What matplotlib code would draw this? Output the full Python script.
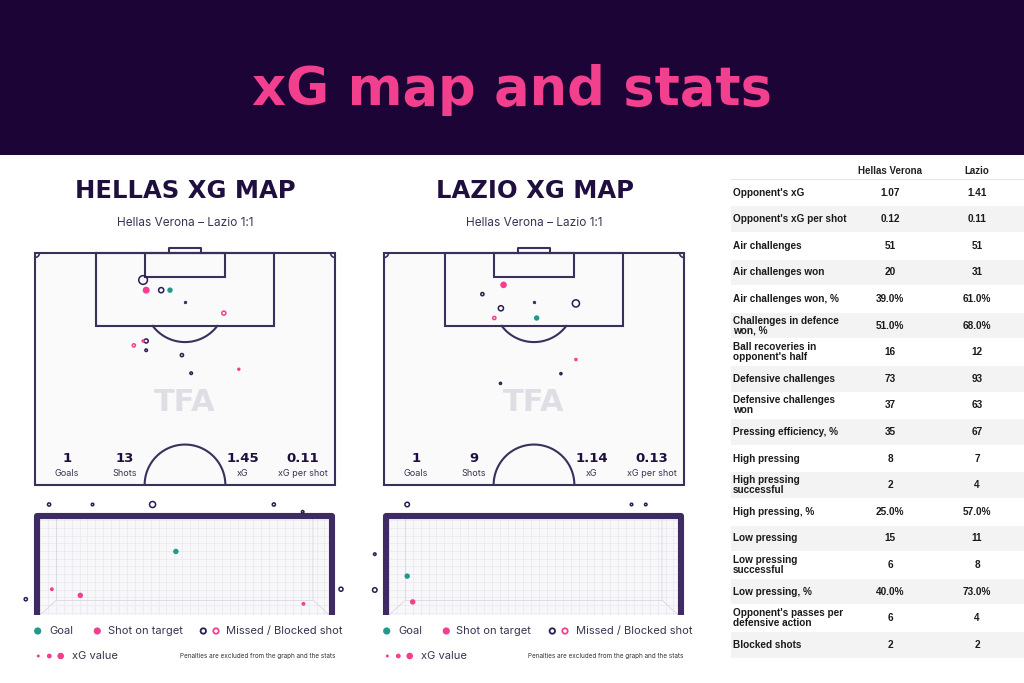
import numpy as np
import matplotlib
matplotlib.use("Agg")
import matplotlib.pyplot as plt
from matplotlib.patches import Rectangle

# ---------------- data ----------------
main_title = "xG map and stats"
map_titles = ["HELLAS XG MAP", "LAZIO XG MAP"]
match_label = "Hellas Verona – Lazio 1:1"
teams = ["Hellas Verona", "Lazio"]

summary_labels = ["Goals", "Shots", "xG", "xG per shot"]
hellas_summary = ["1", "13", "1.45", "0.11"]
lazio_summary = ["1", "9", "1.14", "0.13"]

# shots on pitch: x = metres from left touchline, y = metres from goal line
hellas_shot_x = [24.5, 25.2, 28.6, 30.6, 42.8, 22.4, 25.2, 24.5, 25.2, 33.3, 46.2, 35.4]
hellas_shot_y = [6.1, 8.4, 8.4, 8.4, 13.6, 20.9, 19.9, 19.9, 22.0, 23.1, 26.3, 27.2]
hellas_shot_xg = [0.34, 0.20, 0.18, 0.13, 0.13, 0.09, 0.13, 0.04, 0.06, 0.09, 0.04, 0.06]
hellas_shot_type = ["missed", "target", "missed", "goal", "blocked", "blocked",
                    "missed", "target", "missed", "missed", "target", "missed"]

lazio_shot_x = [27.1, 22.3, 26.5, 25.0, 34.6, 43.5, 43.5, 40.1, 26.4]
lazio_shot_y = [7.2, 9.3, 12.5, 14.7, 14.7, 11.4, 24.1, 27.3, 29.5]
lazio_shot_xg = [0.18, 0.09, 0.18, 0.09, 0.13, 0.27, 0.04, 0.04, 0.04]
lazio_shot_type = ["target", "missed", "missed", "blocked", "goal", "missed",
                   "blocked", "missed", "missed"]

# shots at goal mouth: x = metres from left post, y = height in metres
hellas_goal_x = [0.23, 1.33, 2.85, 5.92, 6.65, -0.36, 7.62, 0.30, 1.02, 6.67, 3.44]
hellas_goal_y = [2.81, 2.81, 2.81, 2.81, 2.62, 0.35, 0.61, 0.61, 0.45, 0.23, 1.59]
hellas_goal_xg = [0.09, 0.06, 0.22, 0.09, 0.06, 0.09, 0.13, 0.06, 0.13, 0.06, 0.13]
hellas_goal_type = ["missed"] * 7 + ["target"] * 3 + ["goal"]

lazio_goal_x = [0.46, 6.14, 6.50, -0.36, -0.36, 0.46, 0.60]
lazio_goal_y = [2.81, 2.81, 2.81, 1.52, 0.59, 0.95, 0.28]
lazio_goal_xg = [0.15, 0.06, 0.06, 0.06, 0.15, 0.13, 0.13]
lazio_goal_type = ["missed"] * 5 + ["goal", "target"]

stat_labels = ["Opponent's xG", "Opponent's xG per shot", "Air challenges",
               "Air challenges won", "Air challenges won, %",
               "Challenges in defence\nwon, %", "Ball recoveries in\nopponent's half",
               "Defensive challenges", "Defensive challenges\nwon",
               "Pressing efficiency, %", "High pressing", "High pressing\nsuccessful",
               "High pressing, %", "Low pressing", "Low pressing\nsuccessful",
               "Low pressing, %", "Opponent's passes per\ndefensive action", "Blocked shots"]
hellas_stats = ["1.07", "0.12", "51", "20", "39.0%", "51.0%", "16", "73", "37",
                "35", "8", "2", "25.0%", "15", "6", "40.0%", "6", "2"]
lazio_stats = ["1.41", "0.11", "51", "31", "61.0%", "68.0%", "12", "93", "63",
               "67", "7", "4", "57.0%", "11", "8", "73.0%", "4", "2"]

# ---------------- style ----------------
BANNER = "#1c0536"
PINK = "#f2408e"
TEAL = "#23998b"
DARK = "#2b1d4e"
LINE = "#3b2f5c"
FRAME = "#3f2b63"
TXT = "#1f0f3f"
GEO = ["Inter", "Lato", "DejaVu Sans"]
HEAVY = ["DejaVu Sans"]

W, H = 1024, 683
fig = plt.figure(figsize=(W / 100, H / 100), dpi=100)
fig.patch.set_facecolor("white")

ov = fig.add_axes([0, 0, 1, 1], zorder=0)
ov.set_xlim(0, W)
ov.set_ylim(H, 0)
ov.axis("off")

ov.add_patch(Rectangle((0, 0), W, 155, fc=BANNER, ec="none"))
ov.text(512, 105, main_title, color=PINK, fontsize=38, fontweight="bold",
        family=HEAVY, ha="center", va="baseline")


def px_axes(left, top, width, height, z=2):
    return fig.add_axes([left / W, (H - top - height) / H, width / W, height / H], zorder=z)


def radius(xg):
    return 1.3 + 11.0 * np.asarray(xg)


def draw_shots(ax, xs, ys, xgs, types):
    r = radius(xgs)
    for x, y, rr, t in sorted(zip(xs, ys, r, types), key=lambda a: -a[2]):
        s = (1.44 * rr) ** 2
        if t == "goal":
            ax.scatter([x], [y], s=s, c=TEAL, edgecolors="none", zorder=5, clip_on=False)
        elif t == "target":
            ax.scatter([x], [y], s=s, c=PINK, edgecolors="none", zorder=5, clip_on=False)
        elif t == "missed":
            ax.scatter([x], [y], s=(1.44 * rr - 1) ** 2, facecolors="none", edgecolors=DARK,
                       linewidths=1.1, zorder=5, clip_on=False)
        else:
            ax.scatter([x], [y], s=(1.44 * rr - 1) ** 2, facecolors="none", edgecolors=PINK,
                       linewidths=1.1, zorder=5, clip_on=False)


def draw_pitch(ax):
    lw = 1.5
    ax.add_patch(Rectangle((0, 0), 68, 52.5, fc="#fafafb", ec=LINE, lw=lw, zorder=1))
    ax.add_patch(Rectangle((13.84, 0), 40.32, 16.5, fill=False, ec=LINE, lw=lw, zorder=2))
    ax.add_patch(Rectangle((24.84, 0), 18.32, 5.5, fill=False, ec=LINE, lw=lw, zorder=2))
    ax.plot([30.34, 30.34, 37.66, 37.66], [0, -1.1, -1.1, 0], color=LINE, lw=lw, zorder=2,
            clip_on=False)
    ax.scatter([34], [11], s=2, c=LINE, zorder=2)
    t0 = np.arcsin(5.5 / 9.15)
    t = np.linspace(t0, np.pi - t0, 60)
    ax.plot(34 + 9.15 * np.cos(t), 11 + 9.15 * np.sin(t), color=LINE, lw=lw, zorder=2)
    t = np.linspace(np.pi, 2 * np.pi, 80)
    ax.plot(34 + 9.15 * np.cos(t), 52.5 + 9.15 * np.sin(t), color=LINE, lw=lw, zorder=2)
    t = np.linspace(0, np.pi / 2, 20)
    ax.plot(np.cos(t), np.sin(t), color=LINE, lw=lw * 0.8, zorder=2)
    ax.plot(68 - np.cos(t), np.sin(t), color=LINE, lw=lw * 0.8, zorder=2)
    ax.text(34, 33.8, "TFA", fontsize=22, fontweight="bold", color="#dedee5",
            family=HEAVY, ha="center", va="center", zorder=2)
    ax.set_xlim(-1, 69)
    ax.set_ylim(53.5, -3)
    ax.axis("off")
    ax.patch.set_alpha(0)


def draw_goal(ax):
    ax.add_patch(Rectangle((-0.08, -0.06), 7.48, 2.6, fc="#f8f8fa", ec="none", zorder=1))
    gc = "#e4e4eb"
    bx0, bx1, by0, by1 = 0.42, 6.91, 0.33, 2.44
    for gx in np.arange(0.0, 7.33, 0.2):
        ax.plot([gx, gx], [-0.06, 2.44], color=gc, lw=0.4, zorder=2)
    for gy in np.arange(0.0, 2.45, 0.2):
        ax.plot([0, 7.32], [gy, gy], color=gc, lw=0.4, zorder=2)
    ax.plot([0, bx0, bx0], [-0.06, by0, by1], color="#d8d8e0", lw=0.6, zorder=2)
    ax.plot([7.32, bx1, bx1], [-0.06, by0, by1], color="#d8d8e0", lw=0.6, zorder=2)
    ax.plot([bx0, bx1], [by0, by0], color="#d8d8e0", lw=0.6, zorder=2)
    ax.plot([-0.076, -0.076, 7.396, 7.396], [-0.06, 2.52, 2.52, -0.06], color=FRAME,
            lw=4.4, solid_joinstyle="round", solid_capstyle="butt", zorder=3)
    ax.set_xlim(-0.633, 7.848)
    ax.set_ylim(-0.06, 3.057)
    ax.axis("off")
    ax.patch.set_alpha(0)


panels = [
    (0, hellas_summary, hellas_shot_x, hellas_shot_y, hellas_shot_xg, hellas_shot_type,
     hellas_goal_x, hellas_goal_y, hellas_goal_xg, hellas_goal_type),
    (349, lazio_summary, lazio_shot_x, lazio_shot_y, lazio_shot_xg, lazio_shot_type,
     lazio_goal_x, lazio_goal_y, lazio_goal_xg, lazio_goal_type),
]
stat_pos_x = [7.2, 20.4, 47.1, 60.7]

for i, (dx, summ, sx, sy, sxg, st, gx, gy, gxg, gt) in enumerate(panels):
    ov.text(185.5 + dx, 191, map_titles[i], fontsize=17.5, fontweight="bold", color=TXT,
            family=HEAVY, ha="center", va="center")
    ov.text(185.5 + dx, 223.5, match_label, fontsize=8.5, color="#3a3350",
            family=GEO, ha="center", va="center")

    pa = px_axes(30.6 + dx, 239.8, 308.8, 249.6)
    draw_pitch(pa)
    draw_shots(pa, sx, sy, sxg, st)
    for k in range(4):
        pa.text(stat_pos_x[k], 46.5, summ[k], fontsize=9.5, fontweight="bold", color=TXT,
                family=HEAVY, ha="center", va="center", zorder=4)
        pa.text(stat_pos_x[k], 49.9, summary_labels[k], fontsize=6.5, color="#3a3350",
                family=GEO, ha="center", va="center", zorder=4)

    ga = px_axes(15 + dx, 495, 335, 120)
    draw_goal(ga)
    draw_shots(ga, gx, gy, gxg, gt)

    # legend
    ly = 631
    ov.scatter([37.7 + dx], [ly], s=(1.44 * 3.6) ** 2, c=TEAL, edgecolors="none")
    ov.text(49 + dx, ly, "Goal", fontsize=8, color="#3a3350", family=GEO, va="center")
    ov.scatter([97.3 + dx], [ly], s=(1.44 * 3.6) ** 2, c=PINK, edgecolors="none")
    ov.text(107.5 + dx, ly, "Shot on target", fontsize=8, color="#3a3350", family=GEO,
            va="center")
    ov.scatter([203.3 + dx], [ly], s=(1.44 * 3.4 - 1) ** 2, facecolors="none",
               edgecolors=DARK, linewidths=1.3)
    ov.scatter([216 + dx], [ly], s=(1.44 * 3.4 - 1) ** 2, facecolors="none",
               edgecolors=PINK, linewidths=1.3)
    ov.text(226.5 + dx, ly, "Missed / Blocked shot", fontsize=8, color="#3a3350",
            family=GEO, va="center")
    ly2 = 656
    for xx, rr in [(38.3, 1.5), (49.3, 2.4), (60.7, 3.3)]:
        ov.scatter([xx + dx], [ly2], s=(1.44 * rr) ** 2, c=PINK, edgecolors="none")
    ov.text(72 + dx, ly2, "xG value", fontsize=8, color="#3a3350", family=GEO, va="center")
    ov.text(335 + dx, ly2, "Penalties are excluded from the graph and the stats",
            fontsize=4.6, color="#333333", family=GEO, ha="right", va="center")

# ---------------- table ----------------
TF = ["Liberation Sans", "DejaVu Sans"]
row_h = 26.6
top0 = 179.3
col_h, col_l = 890, 977
ov.text(col_h, 171, teams[0], fontsize=7, fontweight="bold", color="#222222", family=TF,
        ha="center", va="center")
ov.text(col_l, 171, teams[1], fontsize=7, fontweight="bold", color="#222222", family=TF,
        ha="center", va="center")
ov.plot([731, 1024], [top0, top0], color="#e6e6e6", lw=0.8)
for i, lab in enumerate(stat_labels):
    y0 = top0 + row_h * i
    if i % 2 == 1:
        ov.add_patch(Rectangle((731, y0 + 0.5), 293, row_h - 1, fc="#f3f3f3", ec="none"))
    yc = y0 + row_h / 2
    ov.text(733, yc, lab, fontsize=7.2, fontweight="bold", color="#1a1a1a", family=TF,
            ha="left", va="center", linespacing=1.0)
    ov.text(col_h, yc, hellas_stats[i], fontsize=7.2, fontweight="bold", color="#1a1a1a",
            family=TF, ha="center", va="center")
    ov.text(col_l, yc, lazio_stats[i], fontsize=7.2, fontweight="bold", color="#1a1a1a",
            family=TF, ha="center", va="center")

fig.savefig("out.png", dpi=100, facecolor="white")
